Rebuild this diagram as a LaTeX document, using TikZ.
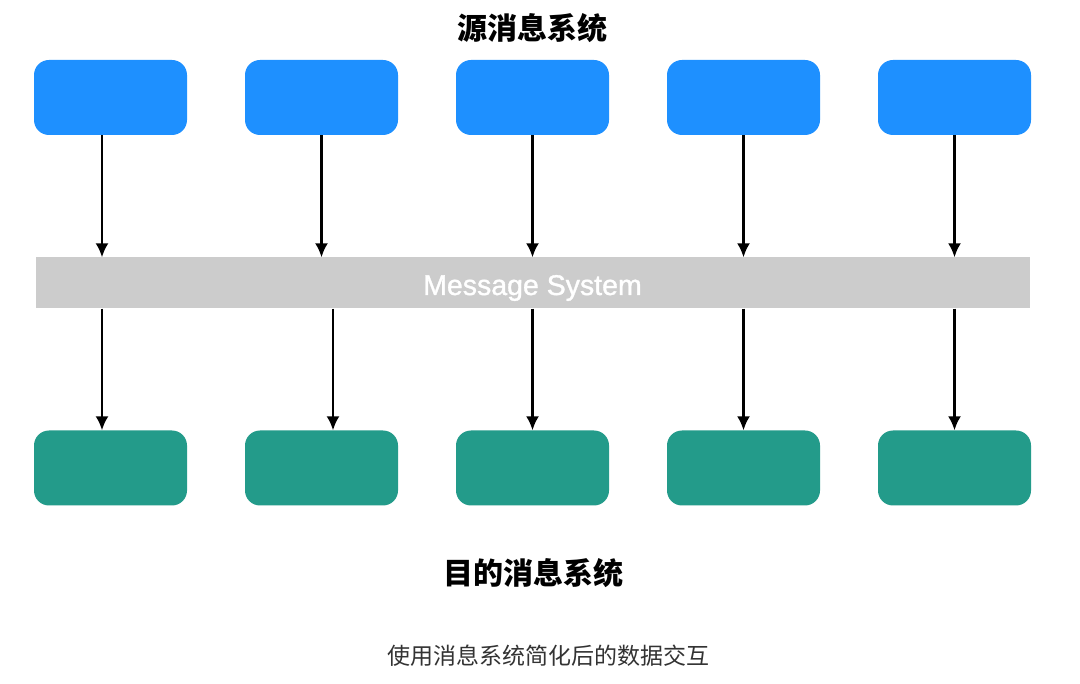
\documentclass[tikz,border=0pt]{standalone}
\usepackage{fontspec}
\setmainfont{Liberation Sans}
\newfontfamily\cjk{Noto Sans CJK SC}
\newfontface\barfont{Liberation Sans}[FakeBold=1.2]
\usetikzlibrary{positioning, arrows.meta}
\definecolor{srcblue}{RGB}{30,144,255}
\definecolor{dstgreen}{RGB}{35,155,138}
\definecolor{bargray}{RGB}{204,204,204}
\definecolor{captiongray}{RGB}{51,51,51}

\begin{document}
\begin{tikzpicture}[x=1pt, y=-1pt,
        sysbox/.style={rounded corners=15pt, minimum width=153pt, minimum height=75pt, inner sep=0pt},
        flow/.style={line width=2.2pt, -{Latex[length=14pt, width=13pt]}}
    ]
            \useasboundingbox[fill=white] (0,0) rectangle (1080,684);
            \node[font=\cjk\bfseries\fontsize{30}{30}\selectfont] (srctitle) at (532,28) {源消息系统};
            \node[fill=bargray, minimum width=994pt, minimum height=51pt, inner sep=0pt] (bar) at (533,283) {};
            \node[anchor=base, inner sep=0pt, text=white,
                font=\barfont\fontsize{28.5}{29}\selectfont] (bartext) at (532.5,295) {Message System};
            % source and target boxes
            \foreach \i/\x in {1/110.5, 2/321.5, 3/532.5, 4/743.5, 5/954.5} {
                \node[sysbox, fill=srcblue] (src\i) at (\x,97.5) {};
                \node[sysbox, fill=dstgreen] (dst\i) at (\x,468) {};
            }
            % arrows into the bar
            \foreach \i/\dx in {1/-8.5, 2/0, 3/0, 4/0, 5/0} {
                \draw[flow] ([xshift=\dx pt]src\i.south) -- ([xshift=\dx pt]src\i.south |- bar.north);
            }
            % arrows out of the bar
            \foreach \i/\dx in {1/-8.5, 2/11.5, 3/0, 4/0, 5/0} {
                \draw[flow] ([xshift=\dx pt]dst\i.north |- bar.south) -- ([xshift=\dx pt]dst\i.north);
            }
            \node[font=\cjk\bfseries\fontsize{30}{30}\selectfont] (dsttitle) at (533,573) {目的消息系统};
            \node[font=\cjk\fontsize{23}{23}\selectfont, text=captiongray] (caption) at (548,656) {使用消息系统简化后的数据交互};
        \end{tikzpicture}
\end{document}
